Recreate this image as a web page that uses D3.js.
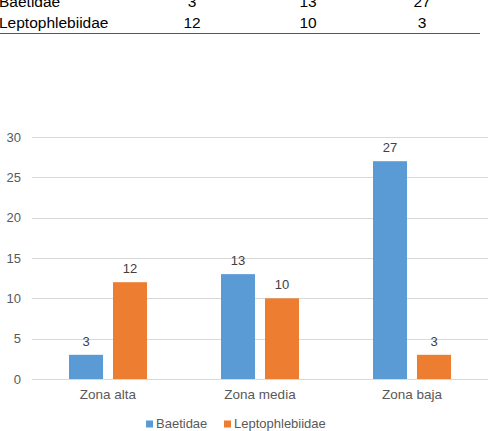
<!DOCTYPE html>
<html><head><meta charset="utf-8">
<script src="https://cdn.jsdelivr.net/npm/d3@7"></script>
<style>body{margin:0;background:#fff}svg{display:block}</style>
</head><body>
<script>
const categories = ["Zona alta", "Zona media", "Zona baja"];
const seriesNames = ["Baetidae", "Leptophlebiidae"];
const baetidae = [3, 13, 27];
const leptophlebiidae = [12, 10, 3];
const yTicks = [0, 5, 10, 15, 20, 25, 30];
const colors = ["#5B9BD5", "#ED7D31"];
const series = [baetidae, leptophlebiidae];

const W = 490, H = 431;
const svg = d3.select("body").append("svg").attr("width", W).attr("height", H);
const font = "'Liberation Sans', Arial, sans-serif";

// Table fragment at top (cut off at the top edge, as in the reference)
const colX = [192, 308, 422];
const rows = [{y: 6.5, name: seriesNames[0], vals: baetidae}, {y: 28, name: seriesNames[1], vals: leptophlebiidae}];
rows.forEach(r => {
  svg.append("text").attr("x", -1).attr("y", r.y).attr("font-family", font).attr("font-size", 15.5).attr("fill", "#000").text(r.name);
  r.vals.forEach((v, i) => {
    svg.append("text").attr("x", colX[i]).attr("y", r.y).attr("text-anchor", "middle").attr("font-family", font).attr("font-size", 15.5).attr("fill", "#000").text(v);
  });
});
svg.append("line").attr("x1", 0).attr("x2", 480).attr("y1", 33.5).attr("y2", 33.5).attr("stroke", "#555").attr("stroke-width", 1);

// Chart
const x0 = d3.scaleBand().domain(categories).range([32, 488]).paddingInner(0).paddingOuter(0);
const y = d3.scaleLinear().domain([0, 30]).range([379, 137]);

// gridlines
svg.append("g").selectAll("line").data(yTicks).join("line")
  .attr("x1", 32).attr("x2", 488)
  .attr("y1", d => Math.round(y(d)) + 0.5).attr("y2", d => Math.round(y(d)) + 0.5)
  .attr("stroke", "#d9d9d9").attr("stroke-width", 1);

// y tick labels
svg.append("g").selectAll("text").data(yTicks).join("text")
  .attr("x", 21).attr("y", d => y(d) + 4.7).attr("text-anchor", "end")
  .attr("font-family", font).attr("font-size", 13).attr("fill", "#595959").text(d => d);

const barW = 34, gap = 10;
const offsets = [(x0.bandwidth() - 2*barW - gap)/2, (x0.bandwidth() - 2*barW - gap)/2 + barW + gap];

series.forEach((vals, si) => {
  const g = svg.append("g");
  g.selectAll("rect").data(vals).join("rect")
    .attr("x", (d, i) => x0(categories[i]) + offsets[si])
    .attr("y", d => y(d)).attr("width", barW).attr("height", d => y(0) - y(d))
    .attr("fill", colors[si]);
  g.selectAll("text").data(vals).join("text")
    .attr("x", (d, i) => x0(categories[i]) + offsets[si] + barW/2)
    .attr("y", d => y(d) - 9).attr("text-anchor", "middle")
    .attr("font-family", font).attr("font-size", 13).attr("fill", "#404040").text(d => d);
});

// category labels
svg.append("g").selectAll("text").data(categories).join("text")
  .attr("x", d => x0(d) + x0.bandwidth()/2).attr("y", 399).attr("text-anchor", "middle")
  .attr("font-family", font).attr("font-size", 13.5).attr("fill", "#595959").text(d => d);

// legend
const legX = [146, 224];
seriesNames.forEach((n, i) => {
  svg.append("rect").attr("x", legX[i]).attr("y", 420.5).attr("width", 7).attr("height", 7).attr("fill", colors[i]);
  svg.append("text").attr("x", legX[i] + 10).attr("y", 427.5).attr("font-family", font).attr("font-size", 13).attr("fill", "#595959").text(n);
});
</script>
</body></html>
